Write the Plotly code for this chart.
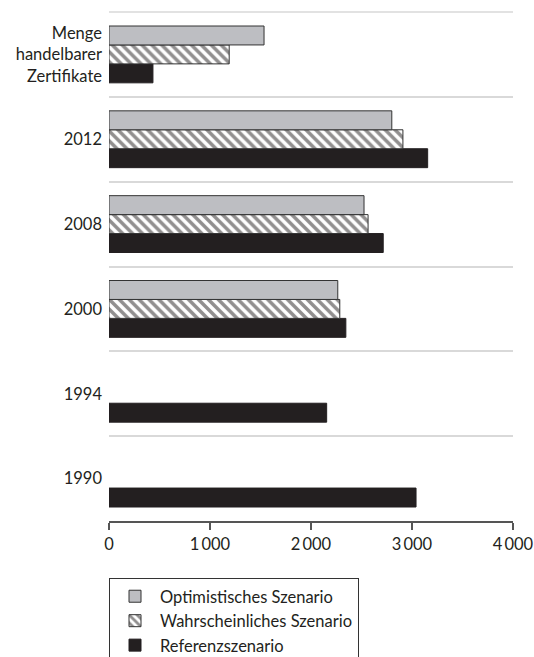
import plotly.graph_objects as go

categories = ["1990", "1994", "2000", "2008", "2012", "Menge<br>handelbarer<br>Zertifikate"]
optimistisch = [None, None, 2265, 2525, 2800, 1535]
wahrscheinlich = [None, None, 2285, 2565, 2910, 1190]
referenz = [3040, 2155, 2345, 2715, 3155, 435]
x_ticks = [0, 1000, 2000, 3000, 4000]
x_ticktext = ["0", "1\u2009000", "2\u2009000", "3\u2009000", "4\u2009000"]

FONT = "Lato"
INK = "#231f20"
FS = 16.5

fig = go.Figure()
fig.add_trace(go.Bar(
    y=categories, x=referenz, orientation="h", name="Referenzszenario",
    marker=dict(color=INK, line=dict(color=INK, width=1)),
))
fig.add_trace(go.Bar(
    y=categories, x=wahrscheinlich, orientation="h", name="Wahrscheinliches Szenario",
    marker=dict(color="white", line=dict(color="#333333", width=1),
                pattern=dict(shape="\\", fgcolor=INK, bgcolor="white", size=7, solidity=0.5)),
))
fig.add_trace(go.Bar(
    y=categories, x=optimistisch, orientation="h", name="Optimistisches Szenario",
    marker=dict(color="#bdbec2", line=dict(color="#333333", width=1)),
))

# top separator line (frame of the first category band)
fig.add_shape(type="line", xref="x domain", yref="y domain",
              x0=0, x1=1, y0=1, y1=1,
              line=dict(color="#d9d9d9", width=1.5), layer="above")

fig.update_layout(
    width=534, height=657,
    margin=dict(l=109, r=21, t=12, b=136, autoexpand=False),
    paper_bgcolor="white", plot_bgcolor="white",
    barmode="group", bargap=0.33, bargroupgap=0,
    font=dict(family=FONT, size=FS, color=INK),
    showlegend=True,
    legend=dict(
        x=0.0, xanchor="left", y=-0.112, yanchor="top",
        traceorder="reversed",
        bordercolor="#333333", borderwidth=1,
        font=dict(family=FONT, size=FS, color=INK),
        tracegroupgap=0, itemwidth=40,
    ),
    xaxis=dict(
        range=[0, 4000], tickvals=x_ticks, ticktext=x_ticktext,
        showgrid=False, zeroline=False,
        showline=True, linecolor="#555555", linewidth=1.5,
        ticks="outside", ticklen=7, tickcolor="#555555", tickwidth=1.5,
        tickfont=dict(family=FONT, size=FS, color=INK),
        automargin=False,
        fixedrange=True,
    ),
    yaxis=dict(
        type="category", categoryorder="array", categoryarray=categories,
        tickson="boundaries", ticks="",
        showgrid=True, gridcolor="#d9d9d9", gridwidth=1.5,
        showline=False, zeroline=False,
        ticklabelstandoff=6,
        tickfont=dict(family=FONT, size=FS, color=INK),
        automargin=False,
        fixedrange=True,
    ),
)

fig.write_html("out.html",
               config={"displayModeBar": False},
               post_script="document.body.style.margin='0';document.body.style.overflow='hidden';")
